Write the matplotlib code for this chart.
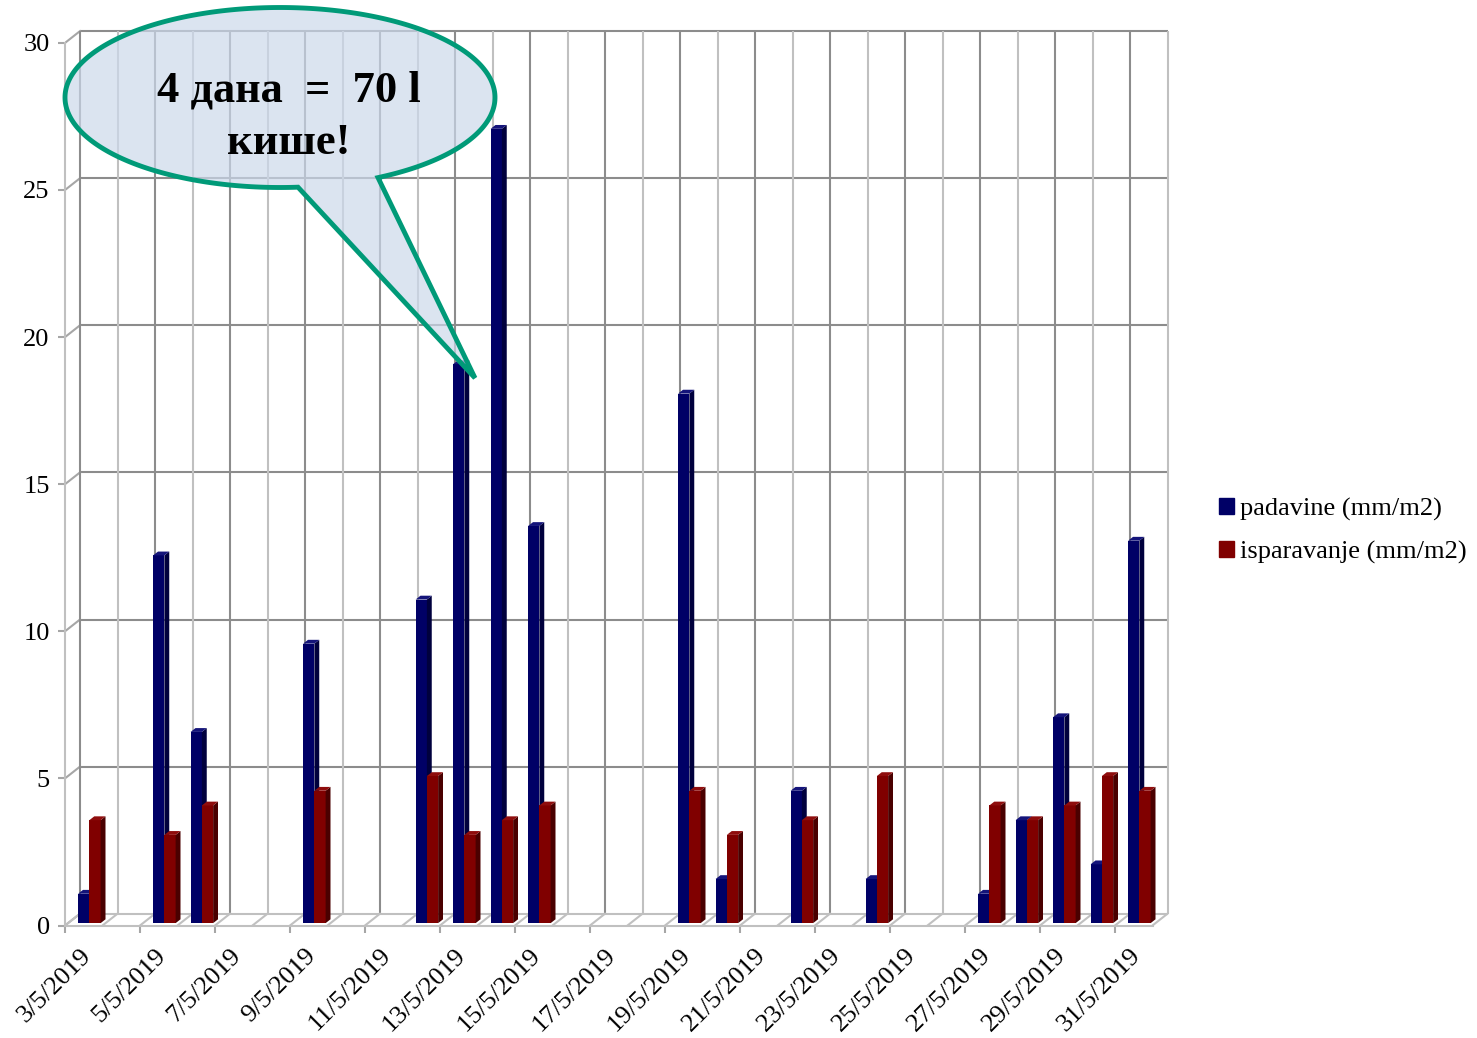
import matplotlib
matplotlib.use("Agg")
import matplotlib.pyplot as plt
from matplotlib.patches import Polygon, Patch, PathPatch
from matplotlib.path import Path
import numpy as np

plt.rcParams['font.family'] = ['Liberation Serif', 'DejaVu Serif']

# data, 3/5/2019 .. 31/5/2019
days = list(range(3, 32))
padavine = [1, 0, 12.5, 6.5, 0, 0, 9.5, 0, 0, 11, 19, 27, 13.5, 0, 0, 0,
            18, 1.5, 0, 4.5, 0, 1.5, 0, 0, 1, 3.5, 7, 2, 13]
isparavanje = [3.5, 0, 3, 4, 0, 0, 4.5, 0, 0, 5, 3, 3.5, 4, 0, 0, 0,
               4.5, 3, 0, 3.5, 0, 5, 0, 0, 4, 3.5, 4, 5, 4.5]
tick_labels = [f"{d}/5/2019" for d in days[::2]]
series_names = ["padavine (mm/m2)", "isparavanje (mm/m2)"]

# colours
NAVY = ('#000066', '#00003d', '#14147a')   # front, side, top
RED = ('#800000', '#4a0000', '#8f0d0d')
DARK = '#8c8c8c'
LIGHT = '#c0c0c0'
MID = '#a6a6a6'
GREEN = '#009a78'

W, H = 1477, 1038
fig = plt.figure(figsize=(W / 100, H / 100), dpi=100)

# pixel geometry of the front plane
x0px, px_cat = 65, 37.5
y0px, px_unit = 925.5, 29.42
right_px, top_px = 1172, 22
DX = 15 / px_cat        # depth offset of back wall
DY = 11.8 / px_unit

ax = fig.add_axes([x0px / W, (H - y0px) / H, (right_px - x0px) / W, (y0px - top_px) / H])
ax.set_xlim(0, (right_px - x0px) / px_cat)
ax.set_ylim(0, (y0px - top_px) / px_unit)
n = len(days)

# back wall, left wall and floor
for v in range(0, 31, 5):
    ax.plot([DX, n + DX], [v + DY, v + DY], color=LIGHT if v == 0 else DARK,
            lw=1.5, zorder=1, solid_capstyle='butt')
    ax.plot([0, DX], [v, v + DY], color=MID, lw=1.5, zorder=1)
for i in range(n + 1):
    ax.plot([i + DX, i + DX], [DY, 30 + DY], color=DARK if i % 2 == 0 else LIGHT,
            lw=1.5, zorder=1, solid_capstyle='butt')
    ax.plot([i, i + DX], [0, DY], color=LIGHT, lw=1.5, zorder=1)

# 3d-looking bars
fx, fy = 0.2 * DX, 0.2 * DY
SD = 0.13
w = 0.3
for k, (vals, off, cols) in enumerate([(padavine, 0.27, NAVY), (isparavanje, 0.57, RED)]):
    vals = np.array(vals, dtype=float)
    xs = np.arange(n) + off + fx
    m = vals > 0
    z = 3 + k * 0.2
    ax.bar(xs[m], vals[m], width=w, bottom=fy, align='edge', color=cols[0],
           linewidth=0, zorder=z)
    for x, v in zip(xs[m], vals[m]):
        t = fy + v
        x1 = x + w
        ax.add_patch(Polygon([(x1, fy), (x1 + SD, fy + SD), (x1 + SD, t + SD), (x1, t)],
                             closed=True, facecolor=cols[1], linewidth=0, zorder=z + 0.1))
        ax.add_patch(Polygon([(x, t), (x1, t), (x1 + SD, t + SD), (x + SD, t + SD)],
                             closed=True, facecolor=cols[2], linewidth=0, zorder=z + 0.1))

for s in ['top', 'right']:
    ax.spines[s].set_visible(False)
ax.spines['left'].set_bounds(0, 30)
ax.spines['bottom'].set_bounds(0, n)
for s in ['left', 'bottom']:
    ax.spines[s].set_color(LIGHT)
    ax.spines[s].set_linewidth(1.5)
ax.patch.set_visible(False)

ax.set_yticks(range(0, 31, 5))
ax.tick_params(axis='y', length=5, width=1.5, color=MID, labelsize=19, pad=6)
ax.set_xticks(range(0, n, 2))
ax.set_xticks(np.arange(0, n, 2) + 0.6, minor=True)
ax.set_xticklabels(tick_labels, minor=True, rotation=45, ha='right',
                   rotation_mode='anchor', va='center')
ax.tick_params(axis='x', which='major', length=5, width=1.5, color=MID, labelbottom=False)
ax.tick_params(axis='x', which='minor', length=0, pad=19, labelsize=19)

handles = [Patch(color=NAVY[0]), Patch(color=RED[0])]
fig.legend(handles, series_names, loc='center left', bbox_to_anchor=(1219 / W, 1 - 531 / H),
           frameon=False, fontsize=19, handlelength=0.55, handleheight=0.55,
           handletextpad=0.25, labelspacing=0.75, borderaxespad=0, borderpad=0)

# callout bubble
ov = fig.add_axes([0, 0, 1, 1], zorder=5)
ov.set_xlim(0, W)
ov.set_ylim(H, 0)
ov.axis('off')
cx, cy, a, b = 280, 97.5, 215, 90
th_r = np.arccos((378 - cx) / a)
th_l = np.arccos((298 - cx) / a)
th = np.linspace(th_l, th_r + 2 * np.pi, 300)
verts = list(zip(cx + a * np.cos(th), cy + b * np.sin(th)))
verts += [(475, 378), verts[0]]
codes = [Path.MOVETO] + [Path.LINETO] * (len(verts) - 2) + [Path.CLOSEPOLY]
ov.add_patch(PathPatch(Path(verts, codes), facecolor=(0.80, 0.85, 0.92, 0.7),
                       edgecolor=GREEN, lw=3.5, joinstyle='miter'))
ov.text(289, 117, "4 дана  =  70 l\nкише!", ha='center', va='center', fontsize=32,
        fontweight='bold', linespacing=1.4, multialignment='center')

fig.savefig("out.png", dpi=100)
